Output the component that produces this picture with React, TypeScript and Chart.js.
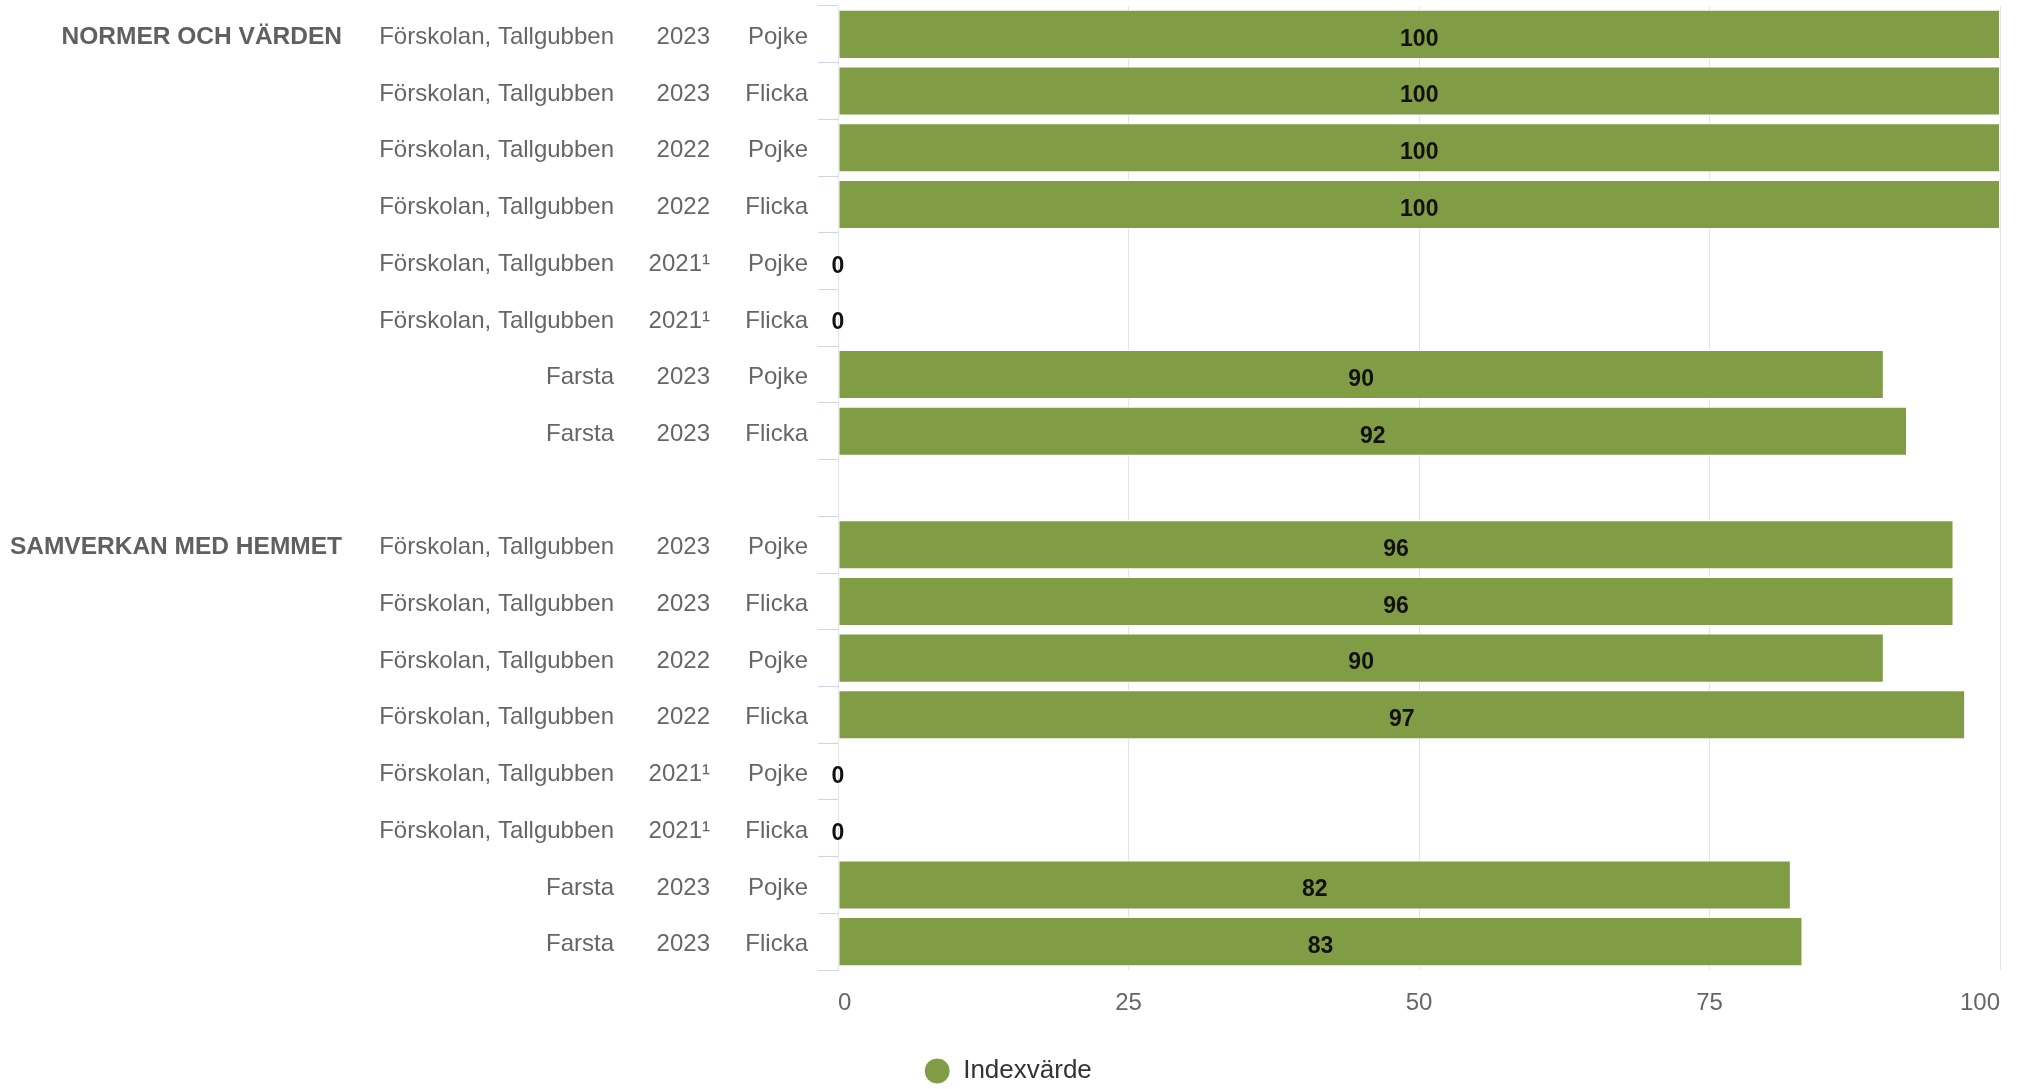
import React, { useEffect, useRef } from "react";
import { Chart, registerables } from "chart.js";

Chart.register(...registerables);

const groupLabels = [
  "NORMER OCH VÄRDEN", "", "", "", "", "", "", "", "",
  "SAMVERKAN MED HEMMET", "", "", "", "", "", "", "",
];
const locationLabels = [
  "Förskolan, Tallgubben", "Förskolan, Tallgubben", "Förskolan, Tallgubben", "Förskolan, Tallgubben",
  "Förskolan, Tallgubben", "Förskolan, Tallgubben", "Farsta", "Farsta", "",
  "Förskolan, Tallgubben", "Förskolan, Tallgubben", "Förskolan, Tallgubben", "Förskolan, Tallgubben",
  "Förskolan, Tallgubben", "Förskolan, Tallgubben", "Farsta", "Farsta",
];
const yearLabels = [
  "2023", "2023", "2022", "2022", "2021¹", "2021¹", "2023", "2023", "",
  "2023", "2023", "2022", "2022", "2021¹", "2021¹", "2023", "2023",
];
const genderLabels = [
  "Pojke", "Flicka", "Pojke", "Flicka", "Pojke", "Flicka", "Pojke", "Flicka", "",
  "Pojke", "Flicka", "Pojke", "Flicka", "Pojke", "Flicka", "Pojke", "Flicka",
];
const indexValues: (number | null)[] = [
  100, 100, 100, 100, 0, 0, 90, 92, null,
  96, 96, 90, 97, 0, 0, 82, 83,
];
const xTicks = [0, 25, 50, 75, 100];
const seriesName = "Indexvärde";

const FONT = "'Liberation Sans', Arial, Helvetica, sans-serif";
const BAR = "#809c45";
const LABEL = "#666666";

const dataLabelPlugin = {
  id: "dataLabels",
  afterDatasetsDraw(chart: any) {
    const ctx = chart.ctx;
    const meta = chart.getDatasetMeta(0);
    const data = chart.data.datasets[0].data;
    ctx.save();
    ctx.font = `bold 23px ${FONT}`;
    ctx.fillStyle = "#111111";
    ctx.textAlign = "center";
    ctx.textBaseline = "middle";
    meta.data.forEach((el: any, i: number) => {
      const v = data[i];
      if (v === null || v === undefined) return;
      const cx = v === 0 ? el.base : (el.x + el.base) / 2;
      ctx.fillText(String(v), cx, el.y + 5);
    });
    ctx.restore();
  },
};

const legendShiftPlugin = {
  id: "legendShift",
  afterLayout(chart: any) {
    if (chart.legend) {
      chart.legend.left += 8;
      chart.legend.right += 8;
    }
  },
};

const noVPad = (scale: any, width: number) => {
  scale.width = width;
  scale.paddingTop = 0;
  scale.paddingBottom = 0;
};

const sideAxis = (labels: string[], weight: number, width: number, bold = false) => ({
  type: "category" as const,
  axis: "y" as const,
  position: "left" as const,
  labels,
  weight,
  offset: true,
  grid: { display: false, drawTicks: false },
  border: { display: false },
  ticks: {
    autoSkip: false,
    padding: 10,
    labelOffset: 3,
    color: bold ? "#606060" : LABEL,
    font: { family: FONT, size: bold ? 24.5 : 24, weight: bold ? ("bold" as const) : ("normal" as const) },
  },
  afterFit: (scale: any) => noVPad(scale, width),
});

export default function App() {
  const ref = useRef<HTMLCanvasElement | null>(null);

  useEffect(() => {
    document.body.style.margin = "0";
    document.body.style.overflow = "hidden";
    if (!ref.current) return;
    const chart = new Chart(ref.current, {
      type: "bar",
      data: {
        labels: genderLabels,
        datasets: [
          {
            label: seriesName,
            data: indexValues,
            backgroundColor: BAR,
            borderColor: "#ffffff",
            borderWidth: 1,
            borderSkipped: false,
            barPercentage: 0.865,
            categoryPercentage: 1,
            xAxisID: "x",
            yAxisID: "y",
          },
        ],
      },
      plugins: [dataLabelPlugin, legendShiftPlugin],
      options: {
        animation: false,
        responsive: true,
        maintainAspectRatio: false,
        indexAxis: "y",
        layout: { padding: { top: 6, right: 19, left: 0, bottom: 0 } },
        scales: {
          x: {
            type: "linear",
            position: "bottom",
            min: 0,
            max: 100,
            afterBuildTicks: (scale: any) => {
              scale.ticks = xTicks.map((v) => ({ value: v }));
            },
            grid: { color: "#e3e3e3", lineWidth: 1, drawTicks: false },
            border: { display: false },
            ticks: {
              align: "inner",
              padding: 19,
              color: LABEL,
              font: { family: FONT, size: 24 },
            },
            afterFit: (scale: any) => {
              scale.height = 78;
            },
          },
          y: {
            type: "category",
            position: "left",
            weight: 0,
            offset: true,
            grid: {
              display: true,
              drawOnChartArea: false,
              drawTicks: true,
              tickLength: 20,
              offset: true,
              color: "#ccd6eb",
              lineWidth: 1,
            },
            border: { display: true, color: "#e3e3e3", width: 1 },
            ticks: {
              autoSkip: false,
              padding: 10,
              labelOffset: 3,
              color: LABEL,
              font: { family: FONT, size: 24 },
            },
            afterFit: (scale: any) => noVPad(scale, 118),
          },
          yYear: sideAxis(yearLabels, 1, 96),
          yLoc: sideAxis(locationLabels, 2, 272),
          yGroup: sideAxis(groupLabels, 3, 352, true),
        } as any,
        plugins: {
          tooltip: { enabled: false },
          legend: {
            display: true,
            position: "bottom",
            align: "center",
            labels: {
              usePointStyle: true,
              pointStyle: "circle",
              boxHeight: 18.4,
              pointStyleWidth: 26,
              padding: 10,
              color: "#333333",
              font: { family: FONT, size: 26 },
            },
          },
        },
      },
    });
    return () => chart.destroy();
  }, []);

  return (
    <div style={{ position: "relative", width: "2019px", height: "1094px" }}>
      <canvas ref={ref} />
    </div>
  );
}
